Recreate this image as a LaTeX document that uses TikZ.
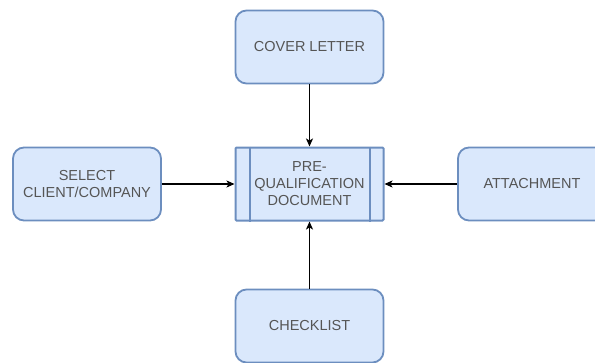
\documentclass[tikz,border=0pt]{standalone}
\usepackage{fontspec}
\setmainfont{Liberation Sans}
\usetikzlibrary{arrows.meta}
\definecolor{boxfill}{HTML}{DAE8FC}
\definecolor{boxline}{HTML}{6C8EBF}
\definecolor{boxtext}{HTML}{555555}
\tikzset{
  card/.style={draw=boxline, fill=boxfill, line width=1.8pt, rounded corners=11pt,
    minimum width=148pt, minimum height=73pt, inner sep=0pt,
    text=boxtext, align=center, font=\fontsize{14.5}{17}\selectfont},
  procbox/.style={draw=boxline, fill=boxfill, line width=2pt, rounded corners=1pt,
    minimum width=148pt, minimum height=73pt, inner sep=0pt,
    text=boxtext, align=center, font=\fontsize{14.5}{17}\selectfont},
  bar/.style={draw=boxline, line width=2pt},
  link/.style={line width=1.2pt, draw=black, -{Stealth[length=8pt,width=7pt,inset=2pt]}}
}
\begin{document}
\begin{tikzpicture}[x=1pt,y=-1pt]
  \path[use as bounding box] (0,0) rectangle (595,362);
  % surrounding inputs
  \node[card] (cover) at (309.5,47) {COVER LETTER};
  \node[card] (select) at (87,184) {SELECT\\CLIENT/COMPANY};
  \node[card] (attach) at (532,184) {ATTACHMENT};
  \node[card] (check) at (309.5,326) {CHECKLIST};
  % central document with side bars
  \node[procbox] (doc) at (309.5,184) {PRE-\\QUALIFICATION\\DOCUMENT};
  \draw[bar] ([xshift=15pt]doc.north west) -- ([xshift=15pt]doc.south west);
  \draw[bar] ([xshift=-15pt]doc.north east) -- ([xshift=-15pt]doc.south east);
  % connectors into the document
  \draw[link] (cover) -- (doc);
  \draw[link] (select) -- (doc);
  \draw[link] (attach) -- (doc);
  \draw[link] (check) -- (doc);
\end{tikzpicture}
\end{document}
